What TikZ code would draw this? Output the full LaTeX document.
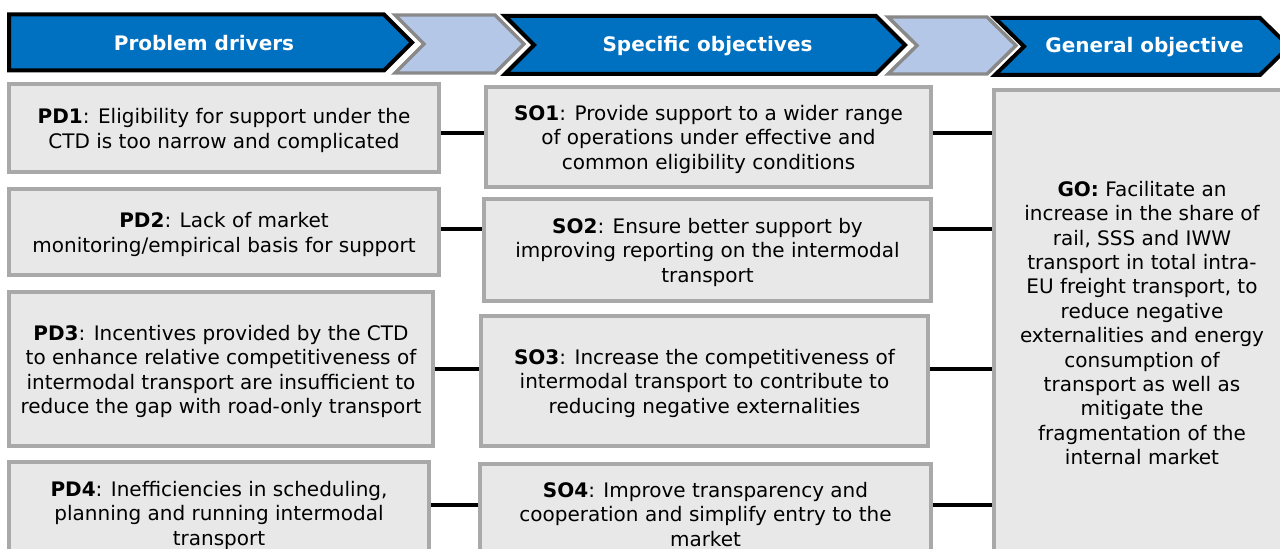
\documentclass[tikz,border=0pt]{standalone}
\usepackage{fontspec}
\setmainfont{DejaVu Sans}
\definecolor{hdrblue}{HTML}{0070C0}
\definecolor{chevfill}{HTML}{B4C7E7}
\definecolor{chevline}{HTML}{898989}
\definecolor{boxfill}{HTML}{E8E8E8}
\definecolor{boxline}{HTML}{A9A9A9}
\newcommand\diagfont{\fontsize{15}{18.3}\selectfont}
% centred lines, set a little low in their box
\newcommand\boxtext[1]{\raisebox{0pt}[\dimexpr\height+4.5pt\relax]{\begin{tabular}{@{}c@{}}#1\end{tabular}}}
\begin{document}
\begin{tikzpicture}[x=0.75pt,y=-0.75pt,
  hdr/.style={fill=hdrblue, draw=black, line width=3pt},
  chev/.style={fill=chevfill, draw=chevline, line width=2.6pt},
  hdrtext/.style={text=white, font=\diagfont\bfseries, inner sep=0pt},
  box/.style={draw=boxline, fill=boxfill, line width=2.8pt, inner sep=0pt,
    font=\diagfont, text=black},
  sz/.style 2 args={minimum width=#1*0.75pt, minimum height=#2*0.75pt},
  conn/.style={draw=black, line width=3pt}]
\useasboundingbox (0,0) rectangle (1280,549);
\clip (0,0) rectangle (1280,549);

% header chevrons
\path[hdr]  (9,14.5) -- (384,14.5) -- (412,42.5) -- (384,70.5) -- (9,70.5) -- cycle;
\path[chev] (395,15) -- (495,15) -- (524,44) -- (495,73) -- (395,73) -- (424,44) -- cycle;
\path[hdr]  (505,16) -- (876,16) -- (905,45) -- (876,74) -- (505,74) -- (534,45) -- cycle;
\path[chev] (888,17) -- (987,17) -- (1016,45.5) -- (987,74) -- (888,74) -- (917,45.5) -- cycle;
\path[hdr]  (995,18) -- (1260,18) -- (1289,46.5) -- (1260,75) -- (995,75) -- (1024,46.5) -- cycle;

\node[hdrtext] (h1) at (204,43) {Problem drivers};
\node[hdrtext] (h2) at (707.5,46) {Specific objectives};
\node[hdrtext] (h3) at (1144.5,47) {General objective};

% problem drivers
\node[box, sz={430}{88}]  (pd1) at (224,128) {\boxtext{\textbf{PD1}: Eligibility for support under the\\CTD is too narrow and complicated}};
\node[box, sz={430}{86}]  (pd2) at (224,232) {\boxtext{\textbf{PD2}: Lack of market\\monitoring/empirical basis for support}};
\node[box, sz={424}{154}] (pd3) at (221,369) {\boxtext{\textbf{PD3}: Incentives provided by the CTD\\to enhance relative competitiveness of\\intermodal transport are insufficient to\\reduce the gap with road-only transport}};
\node[box, sz={420}{102}] (pd4) at (219,513) {\boxtext{\textbf{PD4}: Inefficiencies in scheduling,\\planning and running intermodal\\transport}};

% specific objectives
\node[box, sz={445}{100}] (so1) at (708.5,137) {\boxtext{\textbf{SO1}: Provide support to a wider range\\of operations under effective and\\common eligibility conditions}};
\node[box, sz={447}{102}] (so2) at (707.5,250) {\boxtext{\textbf{SO2}: Ensure better support by\\improving reporting on the intermodal\\transport}};
\node[box, sz={447}{130}] (so3) at (704.5,381) {\boxtext{\textbf{SO3}: Increase the competitiveness of\\intermodal transport to contribute to\\reducing negative externalities}};
\node[box, sz={451}{100}] (so4) at (705.5,514) {\boxtext{\textbf{SO4}: Improve transparency and\\cooperation and simplify entry to the\\market}};

% general objective
\node[box, sz={296}{466}, align=center] (go) at (1142,323) {\textbf{GO:} Facilitate an\\increase in the share of\\rail, SSS and IWW\\transport in total intra-\\EU freight transport, to\\reduce negative\\externalities and energy\\consumption of\\transport as well as\\mitigate the\\fragmentation of the\\internal market};

% connector levels
\coordinate (r1) at (0,132.7);
\coordinate (r2) at (0,229.3);
\coordinate (r3) at (0,369.3);
\coordinate (r4) at (0,505.3);

\draw[conn] (pd1.east |- r1) -- (so1.west |- r1);
\draw[conn] (pd2.east |- r2) -- (so2.west |- r2);
\draw[conn] (pd3.east |- r3) -- (so3.west |- r3);
\draw[conn] (pd4.east |- r4) -- (so4.west |- r4);
\draw[conn] (so1.east |- r1) -- (go.west |- r1);
\draw[conn] (so2.east |- r2) -- (go.west |- r2);
\draw[conn] (so3.east |- r3) -- (go.west |- r3);
\draw[conn] (so4.east |- r4) -- (go.west |- r4);
\end{tikzpicture}
\end{document}
